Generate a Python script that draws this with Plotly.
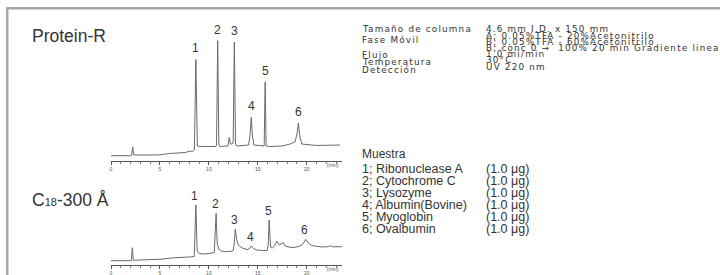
import plotly.graph_objects as go

# ---------------- data ----------------
# Protein-R chromatogram: retention time (min) and detector signal (a.u.)
protein_r_time = [0, 2.1, 2.22, 2.32, 4.8, 6.0, 7.6, 8.1, 8.3, 8.52, 8.67, 8.82, 9.2,
                  10.7, 10.78, 10.9, 11.02, 11.1, 11.95, 12.08, 12.2, 12.35, 12.48, 12.6,
                  12.72, 12.85, 14.05, 14.2, 14.33, 14.45, 14.6, 15.65, 15.75, 15.85,
                  16.1, 17.5, 18.3, 18.8, 19.0, 19.14, 19.3, 19.5, 21.0, 22.5, 23.4]
protein_r_signal = [5.3, 5.3, 14, 6, 6, 7.5, 8.5, 10, 9.5, 11, 101.7, 15, 14.5,
                    14.5, 16, 120.3, 16, 14.5, 15, 23.7, 17, 17, 18, 119,
                    17, 15, 16, 25, 43.7, 25, 16, 15, 79, 15,
                    14.5, 15, 17, 19, 27, 37.7, 24, 17, 15.5, 15.5, 16]

# C18-300 Å chromatogram
c18_time = [0, 2.08, 2.18, 2.28, 5.0, 6.5, 8.0, 8.5, 8.67, 8.8, 9.0, 9.5, 10.0, 10.55,
            10.74, 10.85, 11.0, 11.3, 11.8, 12.45, 12.58, 12.7, 12.85, 13.0, 13.4,
            13.9, 14.1, 14.33, 14.55, 14.9, 15.5, 15.95, 16.06, 16.16, 16.3, 16.5,
            16.7, 16.95, 17.2, 17.4, 17.6, 17.8, 18.5, 19.2, 19.6, 19.9, 20.15, 20.5,
            21.5, 22.2, 22.4, 22.6, 23.0, 23.8]
c18_signal = [4.3, 4.3, 17.3, 4.8, 5.7, 7.3, 8.0, 8.5, 60, 14, 11.5, 11, 11.5, 12.5,
              51.7, 22, 16, 14, 13.3, 14, 20, 36, 25, 20, 17,
              15.5, 16, 19, 16.5, 15, 14.5, 14.5, 20, 45, 18, 17,
              19, 24, 20, 21, 22.3, 19, 17.3, 18.5, 21, 25.7, 22, 19.5,
              18, 18.3, 19.3, 18.2, 18, 18.3]

peak_labels = ["1", "2", "3", "4", "5", "6"]
protein_r_peak_times = [8.67, 10.9, 12.6, 14.33, 15.75, 19.14]
c18_peak_times = [8.67, 10.74, 12.7, 14.33, 16.16, 19.9]

tick_values = [0, 5, 10, 15, 20]
tick_labels = ["0", "5", "10", "15", "20"]
axis_unit = "(min)"

column_titles = ["Protein-R", "C<span style=\"font-size:11px\">18</span>-300 Å"]

condition_labels = ["Tamaño de columna", "Fase Móvil", "Flujo", "Temperatura", "Detección"]
condition_values = ["4.6 mm I.D. x 150 mm",
                    "A; 0.05%TFA - 20%Acetonitrilo",
                    "B; 0.05%TFA - 60%Acetonitrilo",
                    "B; conc 0 \u2192\u00a0 100% 20 min Gradiente lineal",
                    "1.0 mi/min",
                    "30°C",
                    "UV 220 nm"]
sample_title = "Muestra"
sample_names = ["1; Ribonuclease A", "2; Cytochrome C", "3; Lysozyme",
                "4; Albumin(Bovine)", "5; Myoglobin", "6; Ovalbumin"]
sample_amounts = ["(1.0 μg)"] * 6

# ---------------- layout helpers ----------------
W, H = 720, 275
FONT = "Liberation Sans, Arial, Helvetica, sans-serif"
COND_FONT = "DejaVu Sans, Liberation Sans, sans-serif"
TEXT_C = "#333333"


def px_x(x):
    return x / W


def px_y(y):
    return 1 - y / H


fig = go.Figure()

fig.add_trace(go.Scatter(x=protein_r_time, y=protein_r_signal, mode="lines",
                         line=dict(color="#6a6a6a", width=1), xaxis="x", yaxis="y",
                         hoverinfo="skip", showlegend=False))
fig.add_trace(go.Scatter(x=c18_time, y=c18_signal, mode="lines",
                         line=dict(color="#6a6a6a", width=1), xaxis="x2", yaxis="y2",
                         hoverinfo="skip", showlegend=False))

x_dom = [px_x(111), px_x(342)]
xaxis_common = dict(range=[0, 23.6], domain=x_dom, showgrid=False, zeroline=False,
                    showline=True, linecolor="#555555", linewidth=1,
                    ticks="outside", ticklen=3, tickwidth=1, tickcolor="#555555",
                    tickvals=tick_values, ticktext=tick_labels,
                    tickfont=dict(size=5, color="#555555", family=FONT),
                    minor=dict(ticks="outside", ticklen=2, dtick=1, tickcolor="#777777",
                               tickwidth=0.6),
                    fixedrange=True)
fig.update_layout(
    width=W, height=H, autosize=False,
    margin=dict(l=0, r=0, t=0, b=0),
    paper_bgcolor="white", plot_bgcolor="rgba(0,0,0,0)",
    xaxis=dict(**xaxis_common, anchor="y"),
    yaxis=dict(range=[0, 131], domain=[px_y(161), px_y(30)], visible=False, fixedrange=True),
    xaxis2=dict(**xaxis_common, anchor="y2"),
    yaxis2=dict(range=[0, 75], domain=[px_y(265), px_y(190)], visible=False, fixedrange=True),
    font=dict(family=FONT, color=TEXT_C),
)

ann = []
# peak labels
lookup_top = dict(zip(protein_r_time, protein_r_signal))
for lab, t in zip(peak_labels, protein_r_peak_times):
    ann.append(dict(x=t, y=lookup_top[t], xref="x", yref="y", text=lab, showarrow=False,
                    xanchor="center", yanchor="middle", yshift=11,
                    font=dict(size=12, color=TEXT_C, family=FONT)))
lookup_bot = dict(zip(c18_time, c18_signal))
for lab, t in zip(peak_labels, c18_peak_times):
    ann.append(dict(x=t, y=lookup_bot[t], xref="x2", yref="y2", text=lab, showarrow=False,
                    xanchor="center", yanchor="middle", yshift=9, xshift=-1,
                    font=dict(size=12, color=TEXT_C, family=FONT)))

# axis unit labels
for yy in (165, 269):
    ann.append(dict(x=px_x(333), y=px_y(yy), xref="paper", yref="paper", text=axis_unit,
                    showarrow=False, xanchor="center", yanchor="middle",
                    font=dict(size=5, color="#555555", family=FONT)))

# column titles
for title, yy in zip(column_titles, (36, 200)):
    ann.append(dict(x=px_x(30), y=px_y(yy), xref="paper", yref="paper", text=title,
                    showarrow=False, xanchor="left", yanchor="middle",
                    font=dict(size=17.5, color=TEXT_C, family=FONT)))

# conditions (compact, wide lettering as in the reference)
label_y = [29.3, 39.5, 54.5, 62, 70]
value_y = [29.3, 35.5, 41.6, 47.8, 54, 60.2, 66.7]


def wide(txt):
    return '<span style="letter-spacing:1.2px">' + txt + '</span>'


for txt, yy in zip(condition_labels, label_y):
    ann.append(dict(x=px_x(360), y=px_y(yy), xref="paper", yref="paper", text=wide(txt),
                    showarrow=False, xanchor="left", yanchor="middle",
                    font=dict(size=8.8, color=TEXT_C, family=COND_FONT)))
for txt, yy in zip(condition_values, value_y):
    ann.append(dict(x=px_x(484), y=px_y(yy), xref="paper", yref="paper", text=wide(txt),
                    showarrow=False, xanchor="left", yanchor="middle",
                    font=dict(size=8.8, color=TEXT_C, family=COND_FONT)))

# samples
ann.append(dict(x=px_x(360), y=px_y(154), xref="paper", yref="paper", text=sample_title,
                showarrow=False, xanchor="left", yanchor="middle",
                font=dict(size=12, color=TEXT_C, family=FONT)))
sample_y = [169.3, 181.3, 193.3, 205.3, 217.3, 229.3]
for name, amt, yy in zip(sample_names, sample_amounts, sample_y):
    ann.append(dict(x=px_x(360), y=px_y(yy), xref="paper", yref="paper", text=name,
                    showarrow=False, xanchor="left", yanchor="middle",
                    font=dict(size=12.5, color=TEXT_C, family=FONT)))
    ann.append(dict(x=px_x(484), y=px_y(yy), xref="paper", yref="paper", text=amt,
                    showarrow=False, xanchor="left", yanchor="middle",
                    font=dict(size=12.5, color=TEXT_C, family=FONT)))

fig.update_layout(annotations=ann)

# page frame: top and left rules, drawn as paper-referenced rectangles
fig.update_layout(shapes=[
    dict(type="rect", xref="paper", yref="paper",
         x0=px_x(6), x1=1.0, y0=px_y(9.5), y1=px_y(7),
         fillcolor="#a8a8a8", line=dict(width=0), layer="above"),
    dict(type="rect", xref="paper", yref="paper",
         x0=px_x(6), x1=px_x(8.5), y0=0.0, y1=px_y(7),
         fillcolor="#a8a8a8", line=dict(width=0), layer="above"),
])

fig.write_html(
    "out.html",
    config={"displayModeBar": False},
    post_script="document.body.style.margin='0px';document.body.style.padding='0px';"
                "document.documentElement.style.overflow='hidden';",
)
